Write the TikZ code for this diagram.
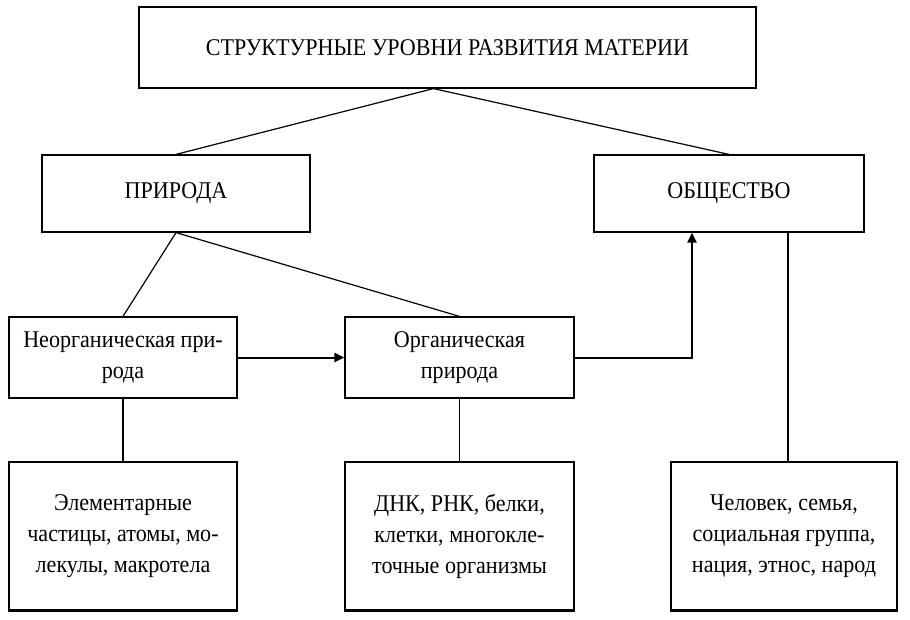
\documentclass[tikz,border=0pt]{standalone}
\usepackage{fontspec}
\setmainfont[FakeStretch=0.92]{Liberation Serif}
\usepackage{tikz}
\usetikzlibrary{positioning,arrows.meta,calc}
\tikzset{
  lvlbox/.style={draw, line width=1.2pt, align=center, inner sep=2pt,
    font=\fontsize{24}{31}\selectfont, fill=white},
  lvlwide/.style={lvlbox, minimum width=617pt, minimum height=81pt},
  lvlmid/.style={lvlbox, minimum width=268pt, minimum height=77pt},
  lvlsub/.style={lvlbox, minimum width=228pt, minimum height=81pt},
  lvlleaf/.style={lvlbox, minimum width=228pt, minimum height=148pt},
  lvlline/.style={line width=1.2pt},
  lvlarrow/.style={-{Triangle[length=10pt,width=9pt]}, line width=2pt},
}

\begin{document}
\begin{tikzpicture}[x=1pt, y=-1pt]
  \useasboundingbox (0,0) rectangle (910,620);
  \node[lvlwide] (top) at (447.5,47.5) {СТРУКТУРНЫЕ УРОВНИ РАЗВИТИЯ МАТЕРИИ};
  \node[lvlmid] (nat) at (176,193.5) {ПРИРОДА};
  \node[lvlmid, minimum width=270pt] (soc) at (729,193.5) {ОБЩЕСТВО};
  \node[lvlsub] (inorg) at (123,357.5) {Неорганическая при-\\рода};
  \node[lvlsub, minimum width=229pt] (org) at (459.5,357.5) {Органическая\\природа};
  \node[lvlleaf] (atoms) at (123,536) {Элементарные\\частицы, атомы, мо-\\лекулы, макротела};
  \node[lvlleaf, minimum width=229pt] (cells) at (459.5,536) {ДНК, РНК, белки,\\клетки, многокле-\\точные организмы};
  \node[lvlleaf, minimum width=226pt] (people) at (784,536) {Человек, семья,\\социальная группа,\\нация, этнос, народ};
  % heavier bottom edge of the lowest boxes
  \foreach \b in {atoms,cells,people}
    \draw[line width=2.4pt] (\b.south west) -- (\b.south east);
  \draw[lvlline] ([xshift=-14pt]top.south) -- (nat.north);
  \draw[lvlline] ([xshift=-14pt]top.south) -- (soc.north);
  \draw[lvlline] (nat.south) -- (inorg.north);
  \draw[lvlline] (nat.south) -- (org.north);
  \draw[lvlline] (inorg.south) -- (atoms.north);
  \draw[lvlline] (org.south) -- (cells.north);
  \draw[lvlline] ([xshift=59pt]soc.south) -- ([xshift=59pt]soc.south |- people.north);
  \draw[lvlarrow] (inorg.east) -- (org.west);
  \draw[lvlarrow] (org.east) -| ([xshift=-37pt]soc.south);
\end{tikzpicture}
\end{document}
